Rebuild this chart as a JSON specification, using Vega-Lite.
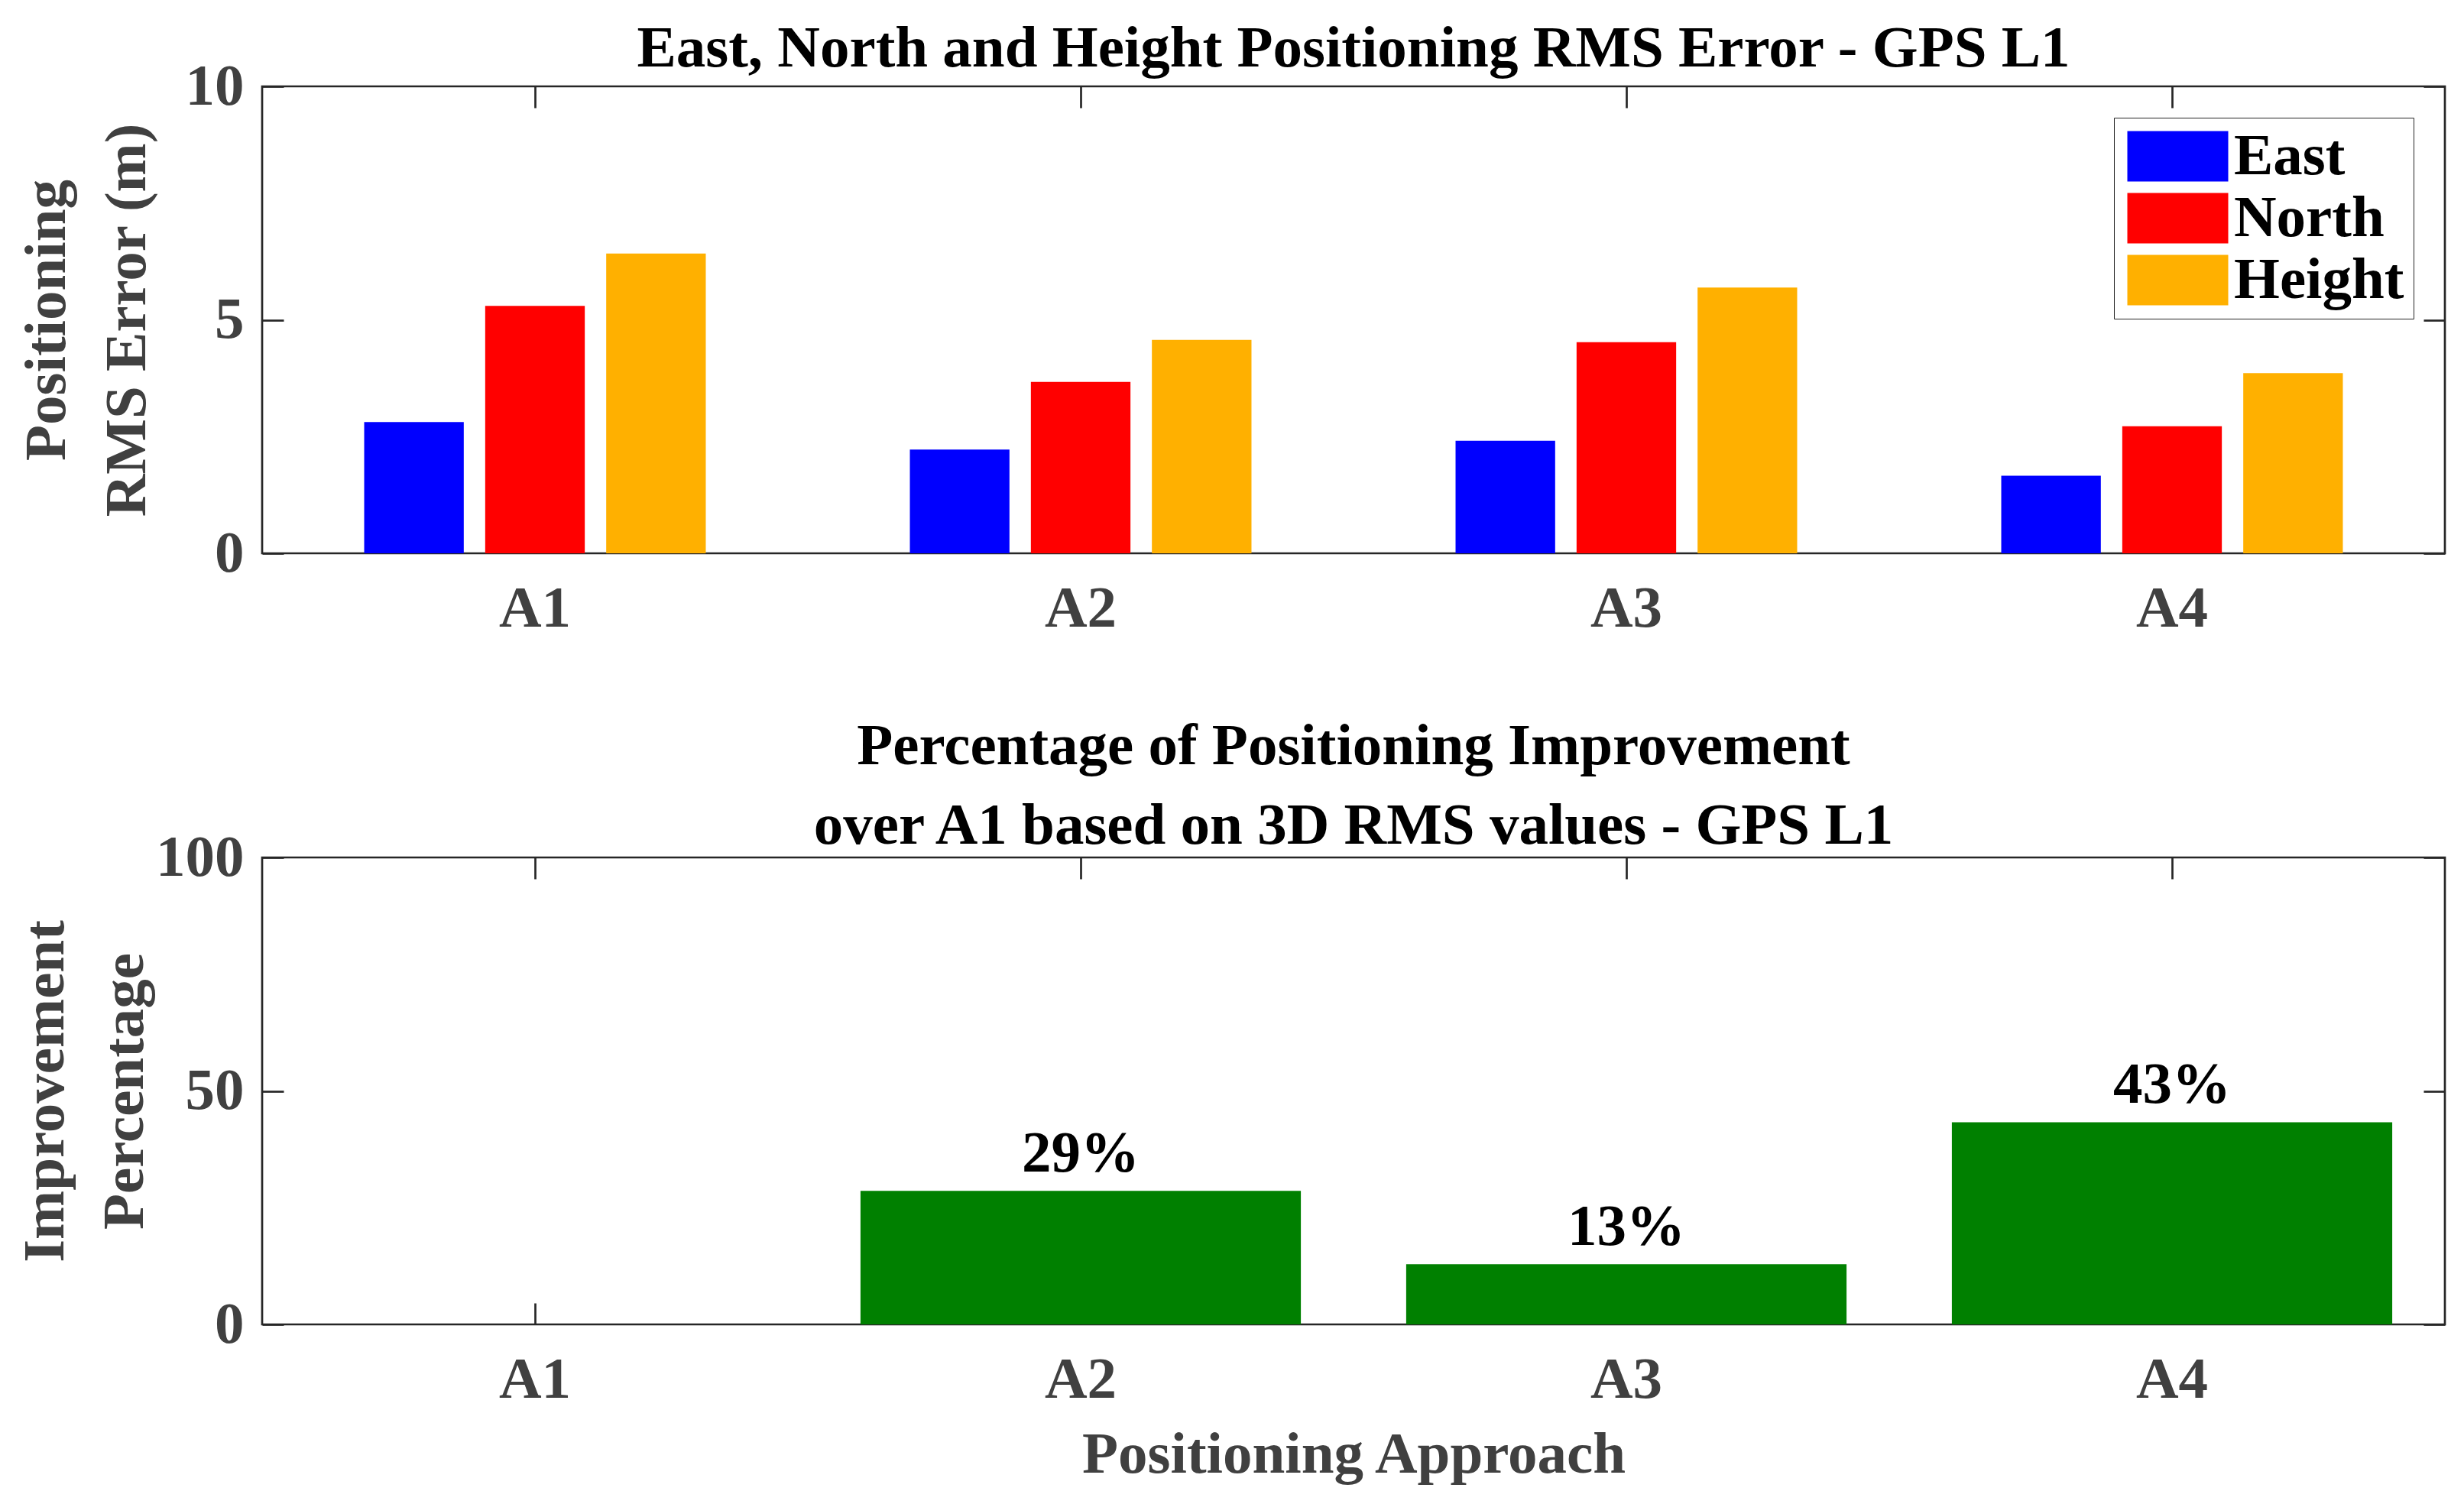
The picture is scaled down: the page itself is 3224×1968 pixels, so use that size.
{
  "$schema": "https://vega.github.io/schema/vega-lite/v6.json",
  "background": "white",
  "padding": {"left": 18, "top": 23, "right": 10, "bottom": 10},
  "spacing": 100,
  "config": {
    "font": "Liberation Serif",
    "view": {"stroke": "#262626", "strokeWidth": 2.7},
    "axis": {
      "domain": false,
      "grid": false,
      "ticks": true,
      "tickSize": -28,
      "tickColor": "#262626",
      "tickWidth": 2.7,
      "labelFont": "Liberation Serif",
      "labelFontSize": 77,
      "labelFontWeight": "bold",
      "labelColor": "#404040",
      "titleFont": "Liberation Serif",
      "titleFontSize": 77,
      "titleFontWeight": "bold",
      "titleColor": "#404040"
    }
  },
  "vconcat": [
    {
      "width": 2856,
      "height": 611,
      "title": {
        "text": "East, North and Height Positioning RMS Error - GPS L1",
        "frame": "group",
        "anchor": "middle",
        "baseline": "alphabetic",
        "offset": -90,
        "fontSize": 77,
        "fontWeight": "bold",
        "font": "Liberation Serif",
        "color": "#000000"
      },
      "data": {
        "values": [
          {"approach": "A1", "component": "East", "rms": 2.81},
          {"approach": "A1", "component": "North", "rms": 5.30},
          {"approach": "A1", "component": "Height", "rms": 6.42},
          {"approach": "A2", "component": "East", "rms": 2.22},
          {"approach": "A2", "component": "North", "rms": 3.67},
          {"approach": "A2", "component": "Height", "rms": 4.57},
          {"approach": "A3", "component": "East", "rms": 2.41},
          {"approach": "A3", "component": "North", "rms": 4.52},
          {"approach": "A3", "component": "Height", "rms": 5.69},
          {"approach": "A4", "component": "East", "rms": 1.66},
          {"approach": "A4", "component": "North", "rms": 2.72},
          {"approach": "A4", "component": "Height", "rms": 3.86}
        ]
      },
      "layer": [
        {
          "mark": {"type": "bar"},
          "encoding": {
            "x": {
              "field": "approach", "type": "nominal", "sort": ["A1", "A2", "A3", "A4"],
              "scale": {"type": "band", "paddingInner": 0.374, "paddingOuter": 0.187},
              "axis": {"orient": "bottom", "title": null, "labelAngle": 0, "labelBaseline": "alphabetic", "labelPadding": 123}
            },
            "xOffset": {
              "field": "component", "type": "nominal", "sort": ["East", "North", "Height"],
              "scale": {"paddingInner": 0.177, "paddingOuter": 0}
            },
            "y": {
              "field": "rms", "type": "quantitative", "stack": null,
              "scale": {"domain": [0, 10], "nice": false},
              "axis": {
                "orient": "left", "values": [0, 5, 10],
                "title": ["Positioning", "RMS Error (m)"],
                "titleX": -259, "titleY": 305.5, "titleAngle": -90,
                "titleBaseline": "alphabetic", "titleAlign": "center", "titleLineHeight": 105,
                "labelPadding": 52
              }
            },
            "color": {
              "field": "component", "type": "nominal", "sort": ["East", "North", "Height"],
              "scale": {"domain": ["East", "North", "Height"], "range": ["#0000FF", "#FF0000", "#FFB000"]},
              "legend": {
                "title": null,
                "orient": "top-right",
                "offset": 41,
                "symbolType": "M-2,-1H2V1H-2Z",
                "symbolSize": 4356,
                "symbolOffset": 33,
                "symbolStrokeWidth": 0,
                "symbolOpacity": 1,
                "labelFont": "Liberation Serif",
                "labelFontSize": 77,
                "labelFontWeight": "bold",
                "labelColor": "#000000",
                "labelOffset": 35,
                "labelLimit": 600,
                "rowPadding": 3,
                "padding": 12,
                "strokeColor": "#262626",
                "fillColor": "#ffffff"
              }
            }
          }
        },
        {
          "mark": {"type": "bar", "opacity": 0},
          "encoding": {
            "x": {
              "field": "approach", "type": "nominal", "sort": ["A1", "A2", "A3", "A4"],
              "axis": {"orient": "top", "labels": false, "title": null}
            },
            "y": {
              "field": "rms", "type": "quantitative", "stack": null,
              "scale": {"domain": [0, 10], "nice": false},
              "axis": {"orient": "right", "labels": false, "title": null, "values": [0, 5, 10]}
            }
          }
        }
      ],
      "resolve": {"axis": {"x": "independent", "y": "independent"}}
    },
    {
      "width": 2856,
      "height": 611,
      "title": {
        "text": ["Percentage of Positioning Improvement", "over A1 based on 3D RMS values - GPS L1"],
        "frame": "group",
        "anchor": "middle",
        "baseline": "alphabetic",
        "offset": -98,
        "lineHeight": 104,
        "fontSize": 77,
        "fontWeight": "bold",
        "font": "Liberation Serif",
        "color": "#000000"
      },
      "data": {
        "values": [
          {"approach": "A1", "pct": 0, "label": ""},
          {"approach": "A2", "pct": 28.6, "label": "29%"},
          {"approach": "A3", "pct": 12.9, "label": "13%"},
          {"approach": "A4", "pct": 43.3, "label": "43%"}
        ]
      },
      "layer": [
        {
          "mark": {"type": "bar", "color": "#008000"},
          "encoding": {
            "x": {
              "field": "approach", "type": "nominal", "sort": ["A1", "A2", "A3", "A4"],
              "scale": {"type": "band", "paddingInner": 0.193, "paddingOuter": 0.0965},
              "axis": {
                "orient": "bottom", "title": "Positioning Approach", "labelAngle": 0,
                "labelBaseline": "alphabetic", "labelPadding": 123,
                "titleBaseline": "alphabetic", "titleY": 193, "titleX": 1428
              }
            },
            "y": {
              "field": "pct", "type": "quantitative",
              "scale": {"domain": [0, 100], "nice": false},
              "axis": {
                "orient": "left", "values": [0, 50, 100],
                "title": ["Improvement", "Percentage"],
                "titleX": -261, "titleY": 305.5, "titleAngle": -90,
                "titleBaseline": "alphabetic", "titleAlign": "center", "titleLineHeight": 104,
                "labelPadding": 52
              }
            }
          }
        },
        {
          "mark": {"type": "text", "baseline": "alphabetic", "align": "center", "dy": -25, "fontSize": 77, "fontWeight": "bold", "font": "Liberation Serif", "color": "#000000"},
          "encoding": {
            "x": {
              "field": "approach", "type": "nominal", "sort": ["A1", "A2", "A3", "A4"],
              "axis": {"orient": "top", "labels": false, "title": null}
            },
            "y": {
              "field": "pct", "type": "quantitative",
              "scale": {"domain": [0, 100], "nice": false},
              "axis": {"orient": "right", "labels": false, "title": null, "values": [0, 50, 100]}
            },
            "text": {"field": "label", "type": "nominal"}
          }
        }
      ],
      "resolve": {"axis": {"x": "independent", "y": "independent"}}
    }
  ]
}
